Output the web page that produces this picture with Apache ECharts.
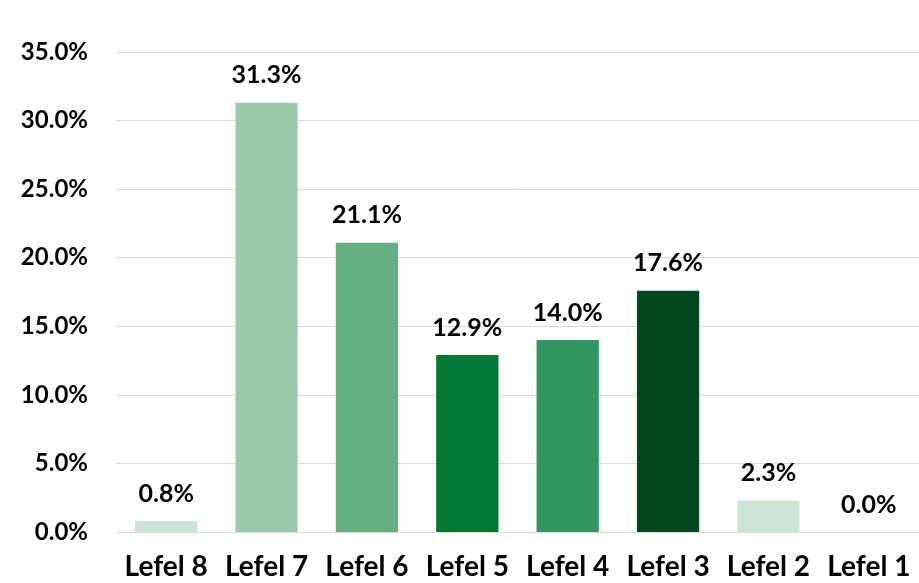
<!DOCTYPE html>
<html>
<head>
<meta charset="utf-8">
<script src="https://cdn.jsdelivr.net/npm/echarts@6/dist/echarts.min.js"></script>
<style>
  html, body { margin: 0; padding: 0; background: #fff; }
  #chart { width: 919px; height: 583px; }
</style>
</head>
<body>
<div id="chart"></div>
<script>
// Share of respondents per level
const categories = ['Lefel 8', 'Lefel 7', 'Lefel 6', 'Lefel 5', 'Lefel 4', 'Lefel 3', 'Lefel 2', 'Lefel 1'];
const values = [0.8, 31.3, 21.1, 12.9, 14.0, 17.6, 2.3, 0.0];
const barColors = ['#CCE3D5', '#99CAAD', '#66AE84', '#007732', '#339560', '#00471F', '#CCE3D5', '#CCE3D5'];

const fontFamily = 'Lato, "Open Sans", sans-serif';

const chart = echarts.init(document.getElementById('chart'));
chart.setOption({
  animation: false,
  grid: { left: 116, right: -9, top: 52, bottom: 51, containLabel: false },
  xAxis: {
    type: 'category',
    data: categories,
    axisLine: { lineStyle: { color: '#D9D9D9', width: 1 } },
    axisTick: { show: false },
    axisLabel: { color: '#000', fontFamily, fontWeight: 'bold', fontSize: 28, margin: 21, interval: 0 }
  },
  yAxis: {
    type: 'value',
    min: 0, max: 35, interval: 5,
    axisLine: { show: false },
    axisTick: { show: false },
    splitLine: { lineStyle: { color: '#D9D9D9', width: 1 } },
    axisLabel: {
      color: '#000', fontFamily, fontWeight: 'bold', fontSize: 24, margin: 28,
      formatter: v => v.toFixed(1) + '%'
    }
  },
  series: [{
    type: 'bar',
    barWidth: '62%',
    data: values.map((v, i) => ({ value: v, itemStyle: { color: barColors[i] } })),
    label: {
      show: true, position: 'top', distance: 15,
      color: '#000', fontFamily, fontWeight: 'bold', fontSize: 25,
      formatter: p => p.value.toFixed(1) + '%'
    }
  }]
});
</script>
</body>
</html>
